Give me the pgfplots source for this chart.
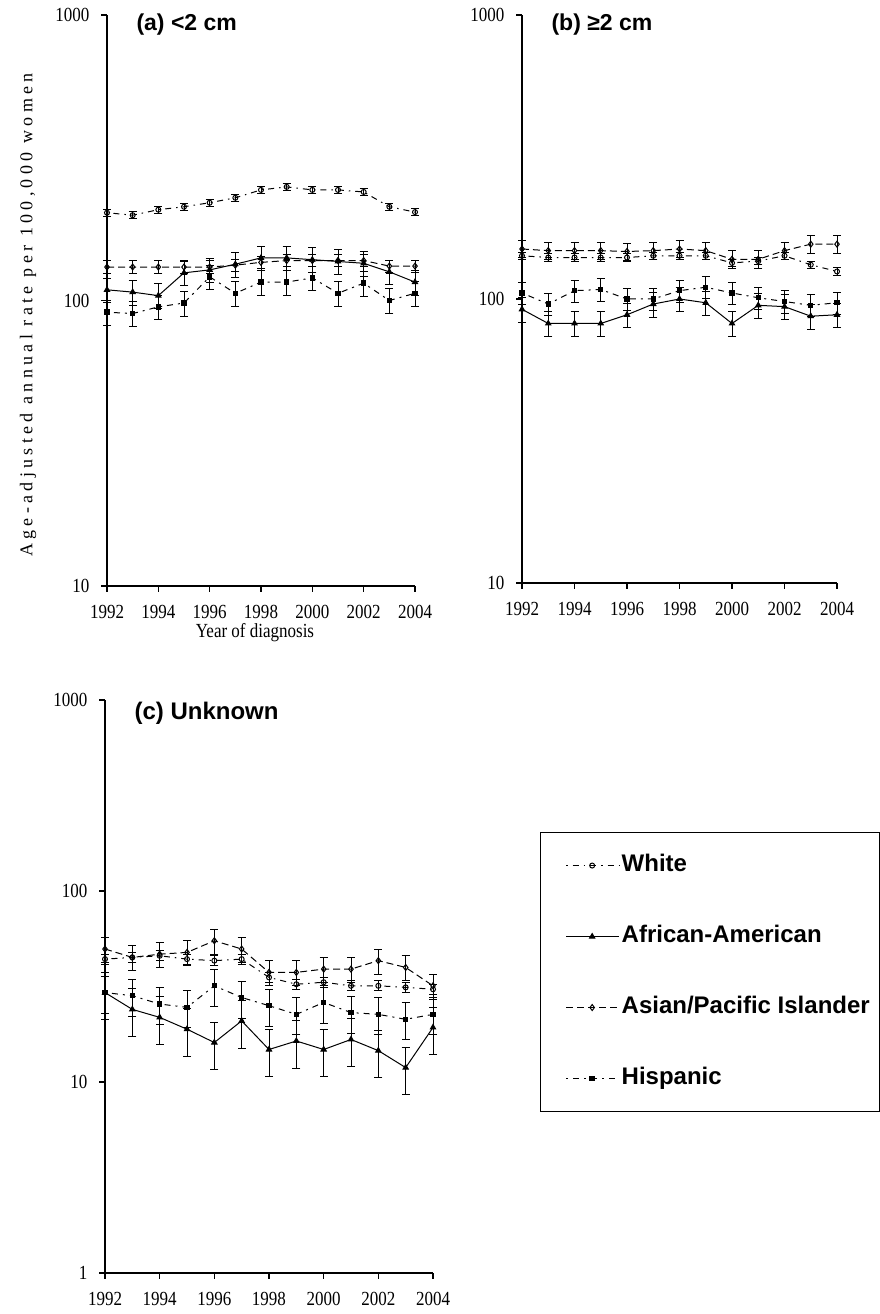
\documentclass[border=0pt]{standalone}
\usepackage{pgfplots}
\pgfplotsset{compat=1.18}
\usepackage{fontspec}
\setmainfont{Liberation Serif}
\newfontfamily\arialfont{Liberation Sans}
\newfontfamily\tickfont[FakeStretch=0.85]{Liberation Serif}
\newfontfamily\ylabfont[LetterSpace=24]{Liberation Serif}

\pgfplotsset{
  every axis/.append style={
    scale only axis,
    axis lines=left,
    axis line style={-, line width=1.5pt},
    xmin=1992, xmax=2004,
    xtick={1992,1994,...,2004},
    tick align=outside,
    major tick length=6pt,
    tick style={line width=1.5pt, black},
    minor y tick style={draw=none},
    log ticks with fixed point,
    /pgf/number format/1000 sep={},
    /pgf/number format/assume math mode=true,
    ticklabel style={font=\tickfont\fontsize{20}{20}\selectfont},
    xticklabel shift=10pt,
    yticklabel shift=8pt,
    clip=false,
  },
  serW/.style={black, line width=1pt, dash pattern=on 1.5pt off 5pt on 6pt off 5pt,
    mark=o, mark size=2.5pt, mark options={solid, fill=white}},
  serAA/.style={black, line width=1pt, solid, mark=triangle*, mark size=3pt,
    mark options={solid, fill=black}},
  serAs/.style={black, line width=1pt, dash pattern=on 7pt off 4pt,
    mark=diamond, mark size=3pt, mark options={solid, fill=white}},
  serH/.style={black, line width=1pt, dash pattern=on 2pt off 5pt on 6pt off 5pt,
    mark=square*, mark size=2.2pt, mark options={solid, fill=black}},
}

\begin{document}
\begin{tikzpicture}
\path[use as bounding box] (0,0) rectangle (880pt,-1314pt);

% (a) <2 cm
\begin{axis}[ymode=log, at={(107pt,-586pt)}, anchor=south west,
  width=308pt, height=571pt, ymin=10, ymax=1000, ytick={10,100,1000},
  error bars/y dir=both, error bars/y explicit relative,
  error bars/error bar style={line width=1pt, solid},
  error bars/error mark options={rotate=90, mark size=4pt, line width=1pt, solid}]
\addplot[serW] coordinates {
 (1992,203) +- (0,0.03) (1993,199) +- (0,0.03) (1994,208) +- (0,0.03)
 (1995,213) +- (0,0.03) (1996,220) +- (0,0.03) (1997,229) +- (0,0.03)
 (1998,244) +- (0,0.03) (1999,250) +- (0,0.03) (2000,244) +- (0,0.03)
 (2001,244) +- (0,0.03) (2002,240) +- (0,0.03) (2003,213) +- (0,0.03)
 (2004,204) +- (0,0.03)};
\addplot[serAA] coordinates {
 (1992,109) +- (0,0.1) (1993,107) +- (0,0.1) (1994,104) +- (0,0.1)
 (1995,125) +- (0,0.1) (1996,128) +- (0,0.1) (1997,134) +- (0,0.1)
 (1998,141) +- (0,0.1) (1999,141) +- (0,0.1) (2000,139) +- (0,0.1)
 (2001,137) +- (0,0.1) (2002,135) +- (0,0.1) (2003,126) +- (0,0.1)
 (2004,116) +- (0,0.1)};
\addplot[serAs] coordinates {
 (1992,131) +- (0,0.05) (1993,131) +- (0,0.05) (1994,131) +- (0,0.05)
 (1995,131) +- (0,0.05) (1996,131) +- (0,0.05) (1997,133) +- (0,0.05)
 (1998,136) +- (0,0.05) (1999,138) +- (0,0.05) (2000,138) +- (0,0.05)
 (2001,138) +- (0,0.05) (2002,138) +- (0,0.05) (2003,132) +- (0,0.05)
 (2004,132) +- (0,0.05)};
\addplot[serH] coordinates {
 (1992,91) +- (0,0.1) (1993,90) +- (0,0.1) (1994,95) +- (0,0.1)
 (1995,98) +- (0,0.1) (1996,121) +- (0,0.1) (1997,106) +- (0,0.1)
 (1998,116) +- (0,0.1) (1999,116) +- (0,0.1) (2000,120) +- (0,0.1)
 (2001,106) +- (0,0.1) (2002,115) +- (0,0.1) (2003,100) +- (0,0.1)
 (2004,106) +- (0,0.1)};
\end{axis}

% (b) >=2 cm
\begin{axis}[ymode=log, at={(522pt,-583pt)}, anchor=south west,
  width=315pt, height=568pt, ymin=10, ymax=1000, ytick={10,100,1000},
  error bars/y dir=both, error bars/y explicit relative,
  error bars/error bar style={line width=1pt, solid},
  error bars/error mark options={rotate=90, mark size=4pt, line width=1pt, solid}]
\addplot[serW] coordinates {
 (1992,142) +- (0,0.03) (1993,140) +- (0,0.03) (1994,140) +- (0,0.03)
 (1995,140) +- (0,0.03) (1996,140) +- (0,0.03) (1997,142) +- (0,0.03)
 (1998,142) +- (0,0.03) (1999,142) +- (0,0.03) (2000,134) +- (0,0.03)
 (2001,136) +- (0,0.03) (2002,142) +- (0,0.03) (2003,132) +- (0,0.03)
 (2004,125) +- (0,0.03)};
\addplot[serAA] coordinates {
 (1992,92) +- (0,0.1) (1993,82) +- (0,0.1) (1994,82) +- (0,0.1)
 (1995,82) +- (0,0.1) (1996,88) +- (0,0.1) (1997,96) +- (0,0.1)
 (1998,100) +- (0,0.1) (1999,97) +- (0,0.1) (2000,82) +- (0,0.1)
 (2001,95) +- (0,0.1) (2002,94) +- (0,0.1) (2003,87) +- (0,0.1)
 (2004,88) +- (0,0.1)};
\addplot[serAs] coordinates {
 (1992,150) +- (0,0.07) (1993,148) +- (0,0.07) (1994,148) +- (0,0.07)
 (1995,148) +- (0,0.07) (1996,147) +- (0,0.07) (1997,148) +- (0,0.07)
 (1998,150) +- (0,0.07) (1999,148) +- (0,0.07) (2000,138) +- (0,0.07)
 (2001,138) +- (0,0.07) (2002,148) +- (0,0.07) (2003,156) +- (0,0.07)
 (2004,156) +- (0,0.07)};
\addplot[serH] coordinates {
 (1992,105) +- (0,0.09) (1993,96) +- (0,0.09) (1994,107) +- (0,0.09)
 (1995,108) +- (0,0.09) (1996,100) +- (0,0.09) (1997,100) +- (0,0.09)
 (1998,107) +- (0,0.09) (1999,110) +- (0,0.09) (2000,105) +- (0,0.09)
 (2001,101) +- (0,0.09) (2002,98) +- (0,0.09) (2003,95) +- (0,0.09)
 (2004,97) +- (0,0.09)};
\end{axis}

% (c) Unknown
\begin{axis}[ymode=log, at={(105pt,-1273pt)}, anchor=south west,
  width=328pt, height=573pt, ymin=1, ymax=1000, ytick={1,10,100,1000},
  error bars/y dir=both, error bars/y explicit relative,
  error bars/error bar style={line width=1pt, solid},
  error bars/error mark options={rotate=90, mark size=4pt, line width=1pt, solid},
  legend style={at={(1.326,0.770)}, anchor=north west, draw=black, line width=1.5pt,
    font=\arialfont\bfseries\fontsize{24}{24}\selectfont,
    inner xsep=8pt, inner ysep=20pt, row sep=45pt,
    nodes={text height=17pt, text depth=5pt, inner sep=2pt}},
  legend cell align=left,
  legend image code/.code={\path (-17pt,0pt);
    \draw[mark repeat=2,mark phase=2,#1] plot coordinates {(0pt,0pt) (26pt,0pt) (53pt,0pt)};}]
\addplot[serW] coordinates {
 (1992,44.0) +- (0,0.06) (1993,44.9) +- (0,0.06) (1994,45.8) +- (0,0.06)
 (1995,44.0) +- (0,0.06) (1996,43.2) +- (0,0.06) (1997,44.0) +- (0,0.06)
 (1998,35.3) +- (0,0.06) (1999,32.5) +- (0,0.06) (2000,33.3) +- (0,0.06)
 (2001,31.9) +- (0,0.06) (2002,31.9) +- (0,0.06) (2003,31.3) +- (0,0.06)
 (2004,30.6) +- (0,0.06)};
\addlegendentry{White}
\addplot[serAA] coordinates {
 (1992,29.4) +- (0,0.28) (1993,24.0) +- (0,0.28) (1994,21.8) +- (0,0.28)
 (1995,18.9) +- (0,0.28) (1996,16.1) +- (0,0.28) (1997,20.9) +- (0,0.28)
 (1998,14.8) +- (0,0.28) (1999,16.4) +- (0,0.28) (2000,14.8) +- (0,0.28)
 (2001,16.7) +- (0,0.28) (2002,14.6) +- (0,0.28) (2003,11.9) +- (0,0.28)
 (2004,19.3) +- (0,0.28)};
\addlegendentry{African-American}
\addplot[serAs] coordinates {
 (1992,49.7) +- (0,0.15) (1993,44.9) +- (0,0.15) (1994,46.7) +- (0,0.15)
 (1995,47.7) +- (0,0.15) (1996,54.9) +- (0,0.15) (1997,49.7) +- (0,0.15)
 (1998,37.5) +- (0,0.15) (1999,37.5) +- (0,0.15) (2000,39.0) +- (0,0.15)
 (2001,39.0) +- (0,0.15) (2002,43.2) +- (0,0.15) (2003,39.8) +- (0,0.15)
 (2004,31.9) +- (0,0.15)};
\addlegendentry{Asian/Pacific Islander}
\addplot[serH] coordinates {
 (1992,29.4) +- (0,0.22) (1993,28.3) +- (0,0.22) (1994,25.6) +- (0,0.22)
 (1995,24.6) +- (0,0.22) (1996,31.9) +- (0,0.22) (1997,27.7) +- (0,0.22)
 (1998,25.1) +- (0,0.22) (1999,22.6) +- (0,0.22) (2000,26.1) +- (0,0.22)
 (2001,23.1) +- (0,0.22) (2002,22.6) +- (0,0.22) (2003,21.3) +- (0,0.22)
 (2004,22.6) +- (0,0.22)};
\addlegendentry{Hispanic}
\end{axis}

% titles and axis labels
\node[anchor=west, font=\arialfont\bfseries\fontsize{23}{23}\selectfont] at (133pt,-25pt) {(a) <2 cm};
\node[anchor=west, font=\arialfont\bfseries\fontsize{23}{23}\selectfont] at (548pt,-25pt) {(b) ≥2 cm};
\node[anchor=west, font=\arialfont\bfseries\fontsize{24}{24}\selectfont] at (131pt,-713pt) {(c) Unknown};
\node[rotate=90, font=\ylabfont\fontsize{18}{18}\selectfont] at (28pt,-315pt) {Age-adjusted annual rate per 100,000 women};
\node[font=\tickfont\fontsize{20}{20}\selectfont] at (255pt,-633pt) {Year of diagnosis};
\end{tikzpicture}
\end{document}
